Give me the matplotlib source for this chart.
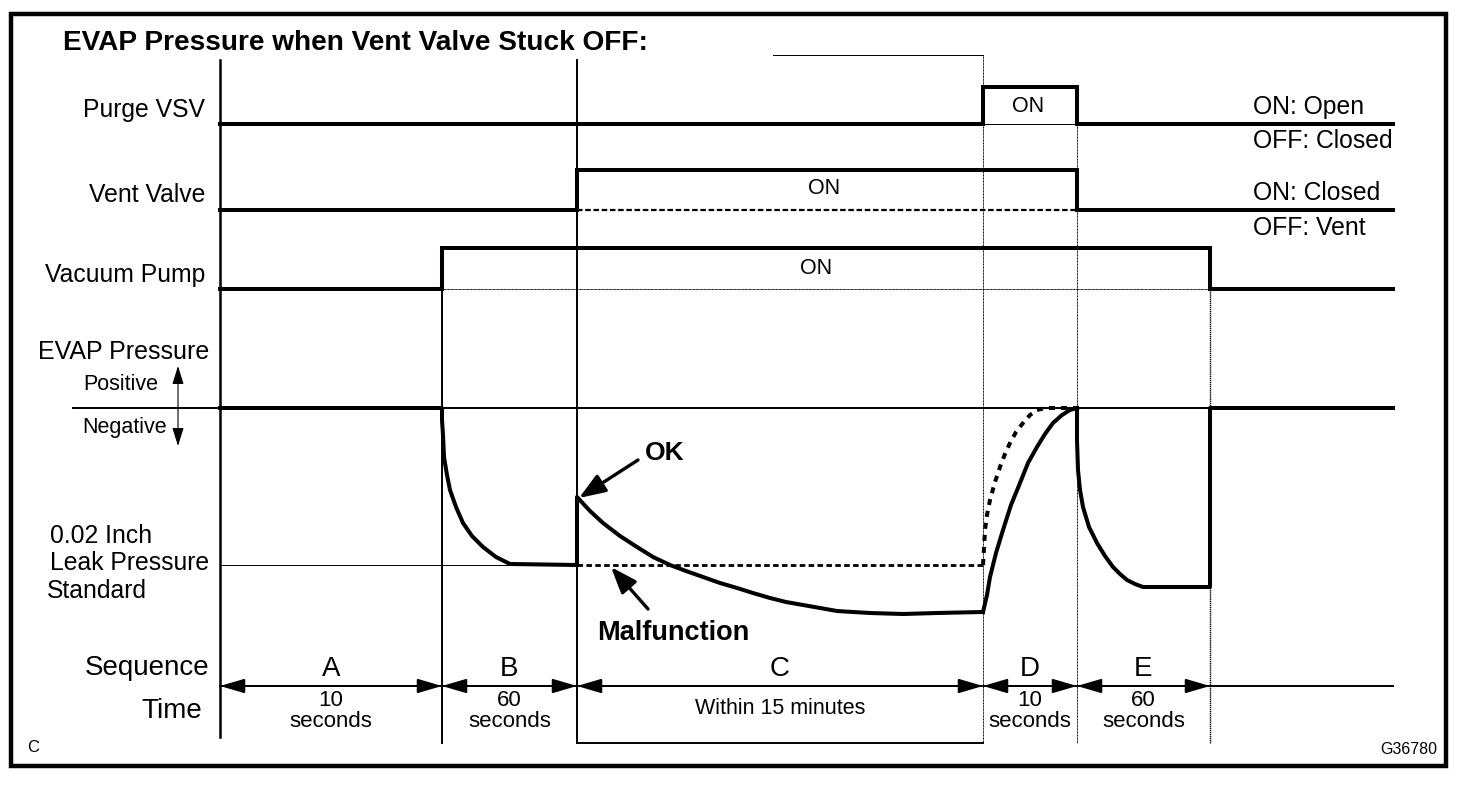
import numpy as np
import matplotlib.pyplot as plt
from matplotlib.patches import Rectangle

# Schematic time axis (drawing units): phase boundaries A | B | C | D | E
phase_edges = [220, 442, 577, 983, 1077, 1210]
axis_end = 1393
phase_names = ['A', 'B', 'C', 'D', 'E']
phase_times = ['10\nseconds', '60\nseconds', 'Within 15 minutes', '10\nseconds', '60\nseconds']

# On/off signals: switch times and state in each interval (0 = OFF, 1 = ON)
purge_switch = [220, 983, 1077, 1393]
purge_state = [0, 1, 0]
vent_switch = [220, 577, 1077, 1393]
vent_state = [0, 1, 0]
pump_switch = [220, 442, 1210, 1393]
pump_state = [0, 1, 0]

# EVAP pressure curves (larger = more negative)
press_x = [220, 442, 442, 443, 444, 447, 450, 456, 463, 472, 483, 496, 510, 577]
press_y = [408, 408, 420, 435, 457, 475, 490, 507, 523, 536, 547, 557, 564, 565]

ok_x = [577, 577, 590, 603, 620, 637, 653, 670, 686, 703, 720, 737, 753, 770, 786,
        803, 820, 837, 853, 870, 903, 937, 983]
ok_y = [565, 497, 511, 523, 536, 547, 557, 565, 571, 577, 583, 588, 593, 598, 602,
        605, 608, 611, 612, 613, 614, 613, 612]

malf_x = [577, 983]
malf_y = [565, 565]

rise_x = [983, 987, 990, 996, 1003, 1011, 1020, 1028, 1037, 1045, 1053, 1062, 1070, 1077]
rise_y = [612, 595, 577, 553, 530, 505, 483, 463, 447, 434, 423, 415, 410, 408]

rise_malf_x = [983, 984, 985, 987, 990, 995, 1000, 1005, 1010, 1016, 1023, 1030, 1037, 1045, 1077]
rise_malf_y = [565, 548, 530, 515, 500, 482, 467, 454, 443, 432, 423, 415, 410, 408, 408]

drop_x = [1077, 1077, 1078, 1080, 1083, 1089, 1097, 1105, 1113, 1120, 1127, 1135, 1143,
          1210, 1210, 1393]
drop_y = [408, 440, 470, 490, 507, 527, 543, 556, 567, 574, 580, 584, 587,
          587, 408, 408]

THICK = 2.9
THIN = 1.4
HAIR = 0.7
FONT = 'Liberation Sans'


def step_line(switch, state, low, high):
    # Turn switch times + states into a square wave
    xs, ys = [], []
    for i, s in enumerate(state):
        level = high if s else low
        xs += [switch[i], switch[i + 1]]
        ys += [level, level]
    return xs, ys


def label(ax, x, y, s, size=17.8, ha='right', va='center', weight='normal'):
    ax.text(x, y, s, fontsize=size, ha=ha, va=va, fontweight=weight,
            family=FONT, linespacing=0.95)


fig = plt.figure(figsize=(14.72, 7.96), dpi=100)
ax = fig.add_axes([0, 0, 1, 1])
ax.set_xlim(0, 1472)
ax.set_ylim(796, 0)
ax.axis('off')

# Outer frame
ax.add_patch(Rectangle((11, 14), 1435, 752, fill=False, lw=3.2, ec='black'))

label(ax, 63, 43, 'EVAP Pressure when Vent Valve Stuck OFF:', size=20.2, ha='left', weight='bold')

# Vertical phase lines
ax.plot([220, 220], [60, 737], color='black', lw=1.8)
ax.plot([442, 442], [248, 743], color='black', lw=1.4)
ax.plot([577, 577], [60, 743], color='black', lw=1.4)
ax.plot([983, 983], [55, 743], color='black', lw=HAIR, ls=(0, (1, 0.5)))
ax.plot([1077, 1077], [87, 743], color='black', lw=HAIR, ls=(0, (1, 0.5)))
ax.plot([1210, 1210], [248, 743], color='black', lw=1.0, ls=(0, (1, 0.5)))
ax.plot([773, 983], [55, 55], color='black', lw=HAIR)
ax.plot([577, 983], [743, 743], color='black', lw=THIN)

# Signals
rows = [('Purge VSV', purge_switch, purge_state, 124, 87, 110),
        ('Vent Valve', vent_switch, vent_state, 210, 170, 195),
        ('Vacuum Pump', pump_switch, pump_state, 289, 248, 275)]
for name, sw, st, low, high, ty in rows:
    xs, ys = step_line(sw, st, low, high)
    ax.plot(xs, ys, color='black', lw=THICK, solid_joinstyle='miter')
    label(ax, 205, ty, name)

# OFF level kept under the ON pulses
ax.plot([983, 1077], [124, 124], color='black', lw=HAIR)
ax.plot([442, 1210], [289, 289], color='black', lw=HAIR, ls=(0, (1, 0.4)))
ax.plot([577, 1077], [210, 210], color='black', lw=1.6, ls=(0, (2.5, 1.2)))

label(ax, 1028, 107, 'ON', size=15.5, ha='center')
label(ax, 824, 189, 'ON', size=15.5, ha='center')
label(ax, 816, 268, 'ON', size=15.5, ha='center')
label(ax, 1253, 107, 'ON: Open', ha='left')
label(ax, 1253, 141, 'OFF: Closed', ha='left')
label(ax, 1253, 193, 'ON: Closed', ha='left')
label(ax, 1253, 228, 'OFF: Vent', ha='left')

# EVAP pressure
ax.plot([73, axis_end], [408, 408], color='black', lw=THIN)
ax.plot([220, 577], [565, 565], color='black', lw=HAIR)
ax.plot(press_x, press_y, color='black', lw=THICK)
ax.plot(ok_x, ok_y, color='black', lw=THICK)
ax.plot(malf_x, malf_y, color='black', lw=2.0, ls=(0, (2, 1.2)))
ax.plot(rise_malf_x, rise_malf_y, color='black', lw=THICK, ls=(0, (1.5, 1.5)))
ax.plot(rise_x, rise_y, color='black', lw=THICK)
ax.plot(drop_x, drop_y, color='black', lw=THICK)

label(ax, 209, 352, 'EVAP Pressure', size=18)
label(ax, 158, 385, 'Positive', size=15.5)
label(ax, 167, 427, 'Negative', size=15.5)
ax.annotate('', xy=(178, 366), xytext=(178, 446),
            arrowprops=dict(arrowstyle='<|-|>,head_length=0.8,head_width=0.25',
                            mutation_scale=14, lw=0.8, color='black',
                            shrinkA=0, shrinkB=0))
label(ax, 50, 536, '0.02 Inch', ha='left')
label(ax, 50, 563, 'Leak Pressure', ha='left')
label(ax, 47, 591, 'Standard', ha='left')

label(ax, 645, 453, 'OK', size=19, ha='left', weight='bold')
ax.annotate('', xy=(579, 498), xytext=(638, 460),
            arrowprops=dict(arrowstyle='-|>,head_length=0.8,head_width=0.3',
                            mutation_scale=20, lw=2.4, color='black',
                            shrinkA=0, shrinkB=0))
label(ax, 597, 633, 'Malfunction', size=19.5, ha='left', weight='bold')
ax.annotate('', xy=(611, 567), xytext=(648, 609),
            arrowprops=dict(arrowstyle='-|>,head_length=0.8,head_width=0.3',
                            mutation_scale=20, lw=2.4, color='black',
                            shrinkA=0, shrinkB=0))

# Sequence / time row
label(ax, 209, 668, 'Sequence', size=20)
label(ax, 202, 711, 'Time', size=20)
ax.plot([220, axis_end], [686, 686], color='black', lw=THIN)
for i, name in enumerate(phase_names):
    x0, x1 = phase_edges[i], phase_edges[i + 1]
    mid = (x0 + x1) / 2
    ax.annotate('', xy=(x1, 686), xytext=(x0, 686),
                arrowprops=dict(arrowstyle='<|-|>,head_length=0.75,head_width=0.22',
                                mutation_scale=20, lw=THIN, color='black',
                                shrinkA=0, shrinkB=0))
    label(ax, mid, 669, name, size=20, ha='center')
    if '\n' in phase_times[i]:
        label(ax, mid, 711, phase_times[i], size=16, ha='center')
    else:
        label(ax, mid, 709, phase_times[i], size=15.5, ha='center')

label(ax, 33, 748, 'C', size=12, ha='center')
label(ax, 1437, 750, 'G36780', size=11.5, ha='right')

fig.savefig('out.png', dpi=100)
